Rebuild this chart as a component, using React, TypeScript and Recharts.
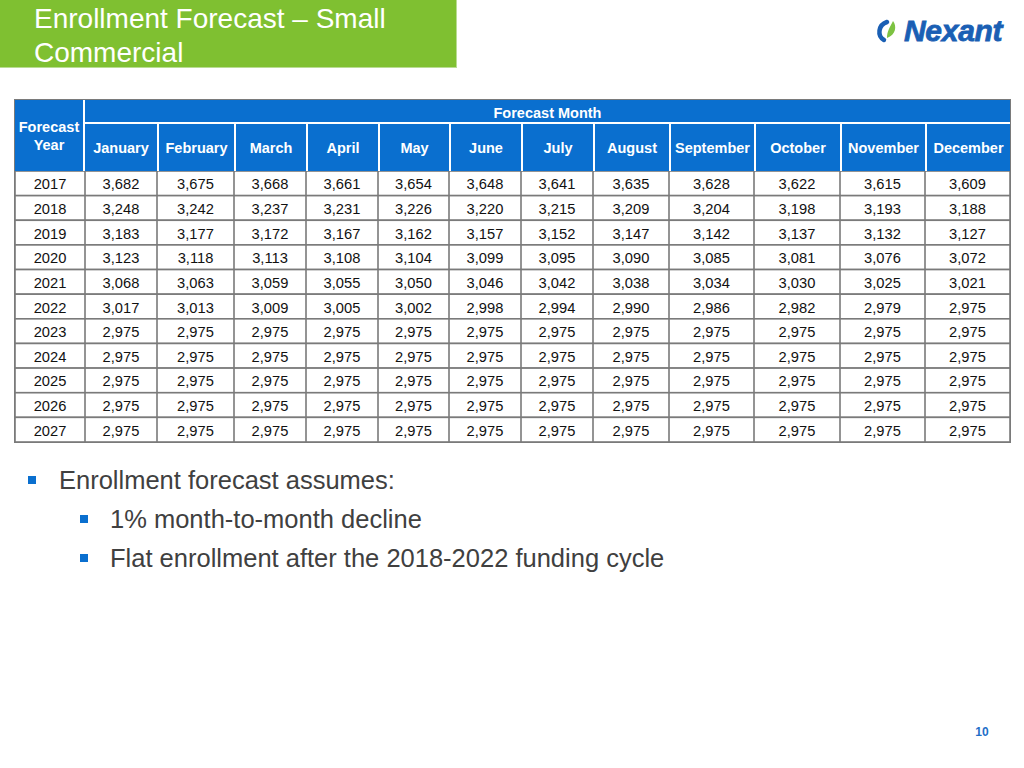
import React from "react";
import { ScatterChart, Scatter, XAxis, YAxis } from "recharts";

const years = ["2017", "2018", "2019", "2020", "2021", "2022", "2023", "2024", "2025", "2026", "2027"];
const months = [
  "January", "February", "March", "April", "May", "June",
  "July", "August", "September", "October", "November", "December",
];

const y2017 = [3682, 3675, 3668, 3661, 3654, 3648, 3641, 3635, 3628, 3622, 3615, 3609];
const y2018 = [3248, 3242, 3237, 3231, 3226, 3220, 3215, 3209, 3204, 3198, 3193, 3188];
const y2019 = [3183, 3177, 3172, 3167, 3162, 3157, 3152, 3147, 3142, 3137, 3132, 3127];
const y2020 = [3123, 3118, 3113, 3108, 3104, 3099, 3095, 3090, 3085, 3081, 3076, 3072];
const y2021 = [3068, 3063, 3059, 3055, 3050, 3046, 3042, 3038, 3034, 3030, 3025, 3021];
const y2022 = [3017, 3013, 3009, 3005, 3002, 2998, 2994, 2990, 2986, 2982, 2979, 2975];
const y2023 = [2975, 2975, 2975, 2975, 2975, 2975, 2975, 2975, 2975, 2975, 2975, 2975];
const y2024 = [2975, 2975, 2975, 2975, 2975, 2975, 2975, 2975, 2975, 2975, 2975, 2975];
const y2025 = [2975, 2975, 2975, 2975, 2975, 2975, 2975, 2975, 2975, 2975, 2975, 2975];
const y2026 = [2975, 2975, 2975, 2975, 2975, 2975, 2975, 2975, 2975, 2975, 2975, 2975];
const y2027 = [2975, 2975, 2975, 2975, 2975, 2975, 2975, 2975, 2975, 2975, 2975, 2975];
const rows = [y2017, y2018, y2019, y2020, y2021, y2022, y2023, y2024, y2025, y2026, y2027];

// layout (px)
const FONT = "'Liberation Sans', Arial, Helvetica, sans-serif";
const BLUE = "#0a6fcf";
const GRID = "#7a7a7a";
const TABLE_X = 15;
const TABLE_Y = 100;
const HEAD1_H = 24;
const HEAD2_H = 47;
const BODY_H = 271;
const yearColW = 70;
const monthColW = [72, 77, 72, 72, 71, 72, 72, 76, 85, 86, 85, 85];

type CellDatum = { col: string; year: string; label: string };

function TableColumn({ id, width, labels }: { id: string; width: number; labels: string[] }) {
  const data: CellDatum[] = years.map((y, i) => ({ col: id, year: y, label: labels[i] }));
  const rowH = BODY_H / years.length;
  const cell = (p: any) => (
    <g>
      <rect
        x={p.cx - width / 2}
        y={p.cy - rowH / 2}
        width={width}
        height={rowH}
        fill="#fff"
        stroke={GRID}
        strokeWidth={1.6}
      />
      <text
        x={p.cx}
        y={p.cy + 1}
        textAnchor="middle"
        dominantBaseline="central"
        fontFamily={FONT}
        fontSize={14.7}
        fill="#111"
      >
        {p.payload.label}
      </text>
    </g>
  );
  return (
    <ScatterChart width={width} height={BODY_H} margin={{ top: 0, right: 0, bottom: 0, left: 0 }}>
      <XAxis type="category" dataKey="col" allowDuplicatedCategory={false} hide />
      <YAxis type="category" dataKey="year" reversed hide />
      <Scatter data={data} shape={cell} isAnimationActive={false} />
    </ScatterChart>
  );
}

function Logo() {
  return (
    <div style={{ position: "absolute", left: 874, top: 16, display: "flex", alignItems: "center" }}>
      <svg width={30} height={26}>
        <path d="M13 4 C4 7 3 18 10 22" stroke="#1a5fb4" strokeWidth={4.5} fill="none" strokeLinecap="round" />
        <path d="M13 20 C22 17 23 8 19 3 C16 9 13 13 13 20 Z" fill="#7dc242" />
      </svg>
      <span
        style={{
          fontFamily: FONT,
          fontWeight: 900,
          fontStyle: "italic",
          fontSize: 30,
          color: "#1a5fb4",
          letterSpacing: -0.3,
          lineHeight: "30px",
          WebkitTextStroke: "0.8px #1a5fb4",
        }}
      >
        Nexant
      </span>
    </div>
  );
}

function Bullet({ x, y, text, textX }: { x: number; y: number; text: string; textX: number }) {
  return (
    <>
      <div style={{ position: "absolute", left: x, top: y - 4, width: 8, height: 8, background: BLUE }} />
      <div
        style={{
          position: "absolute",
          left: textX,
          top: y - 16,
          fontSize: 25.5,
          lineHeight: "32px",
          color: "#404040",
          whiteSpace: "nowrap",
        }}
      >
        {text}
      </div>
    </>
  );
}

export default function App() {
  const colX: number[] = [];
  let acc = TABLE_X + yearColW;
  monthColW.forEach((w) => {
    colX.push(acc);
    acc += w;
  });
  const tableW = acc - TABLE_X;
  const bodyY = TABLE_Y + HEAD1_H + HEAD2_H;

  return (
    <div
      style={{
        position: "absolute",
        left: 0,
        top: 0,
        width: 1024,
        height: 768,
        background: "#fff",
        fontFamily: FONT,
        overflow: "hidden",
      }}
    >
      {/* title banner */}
      <div
        style={{
          position: "absolute",
          left: 0,
          top: 0,
          width: 457,
          height: 68,
          background: "#7fc031",
          borderBottom: "1px solid #b9dc93",
          borderRight: "1px solid #b9dc93",
          boxSizing: "border-box",
        }}
      >
        <div
          style={{
            position: "absolute",
            left: 34,
            top: 2,
            fontSize: 28,
            lineHeight: "34px",
            color: "#fff",
          }}
        >
          Enrollment Forecast – Small
          <br />
          Commercial
        </div>
      </div>

      <Logo />

      {/* header */}
      <div
        style={{
          position: "absolute",
          left: TABLE_X,
          top: TABLE_Y,
          width: tableW,
          height: HEAD1_H + HEAD2_H,
          background: BLUE,
          color: "#fff",
          fontWeight: 700,
          fontSize: 14.5,
        }}
      >
        <div
          style={{
            position: "absolute",
            left: 0,
            top: 0,
            width: yearColW,
            height: HEAD1_H + HEAD2_H,
            display: "flex",
            alignItems: "center",
            justifyContent: "center",
            textAlign: "center",
            lineHeight: "18px",
            borderRight: "2px solid #fff",
            boxSizing: "border-box",
          }}
        >
          Forecast
          <br />
          Year
        </div>
        <div
          style={{
            position: "absolute",
            left: yearColW,
            top: 0,
            width: tableW - yearColW,
            height: HEAD1_H,
            display: "flex",
            alignItems: "center",
            justifyContent: "center",
            paddingTop: 3,
            borderBottom: "2px solid #fff",
            boxSizing: "border-box",
          }}
        >
          Forecast Month
        </div>
        {months.map((m, i) => (
          <div
            key={m}
            style={{
              position: "absolute",
              left: colX[i] - TABLE_X,
              top: HEAD1_H,
              width: monthColW[i],
              height: HEAD2_H,
              display: "flex",
              alignItems: "center",
              justifyContent: "center",
              borderLeft: i === 0 ? "none" : "2px solid #fff",
              boxSizing: "border-box",
              whiteSpace: "nowrap",
            }}
          >
            {m}
          </div>
        ))}
      </div>
      <div
        style={{
          position: "absolute",
          left: TABLE_X - 1,
          top: TABLE_Y - 1,
          width: tableW + 2,
          height: 1,
          background: "#9a9a9a",
        }}
      />

      {/* body: one small chart per column */}
      <div style={{ position: "absolute", left: TABLE_X, top: bodyY }}>
        <TableColumn id="year" width={yearColW} labels={years} />
      </div>
      {months.map((m, i) => (
        <div key={m} style={{ position: "absolute", left: colX[i], top: bodyY }}>
          <TableColumn
            id={m}
            width={monthColW[i]}
            labels={rows.map((r) => r[i].toLocaleString("en-US"))}
          />
        </div>
      ))}
      <div
        style={{
          position: "absolute",
          left: TABLE_X - 1,
          top: TABLE_Y - 1,
          width: tableW + 2,
          height: HEAD1_H + HEAD2_H + BODY_H + 2,
          border: `1px solid ${GRID}`,
          boxSizing: "border-box",
          pointerEvents: "none",
        }}
      />

      {/* notes */}
      <Bullet x={28} y={480} textX={59} text="Enrollment forecast assumes:" />
      <Bullet x={80} y={519} textX={110} text="1% month-to-month decline" />
      <Bullet x={80} y={558} textX={110} text="Flat enrollment after the 2018-2022 funding cycle" />

      <div
        style={{
          position: "absolute",
          left: 972,
          top: 725,
          width: 20,
          textAlign: "center",
          fontSize: 12,
          fontWeight: 700,
          color: "#1f6fc8",
        }}
      >
        10
      </div>
    </div>
  );
}
